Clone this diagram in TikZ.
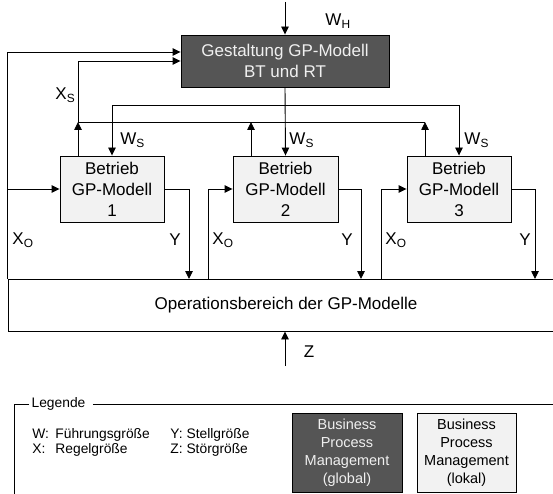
\documentclass[tikz,border=0pt]{standalone}
\usepackage{fontspec}
\setmainfont{Liberation Sans}
\usetikzlibrary{arrows.meta}
\definecolor{bpmdark}{HTML}{555555}
\definecolor{bpmlight}{HTML}{F2F2F2}
\tikzset{
	arr/.style={-{Triangle[length=8pt,width=7.5pt]}},
	glob/.style={draw, fill=bpmdark, text=white!94!black, align=center, inner sep=0pt},
	lok/.style={draw, fill=bpmlight, align=center, inner sep=0pt},
	lbl/.style={inner sep=0pt},
}
\begin{document}
\begin{tikzpicture}[x=1pt, y=-1pt, line width=0.9pt, font=\fontsize{17}{21}\selectfont]
			%%%%% START %%%%%
			\useasboundingbox (0,0) rectangle (553,494);
			
			\node[glob, minimum width=208pt, minimum height=52pt] (gest) at (285,61) {Gestaltung GP-Modell\\BT und RT};
			
			\node[lok, minimum width=104pt, minimum height=66pt] (b1) at (112,189) {Betrieb\\GP-Modell\\1};
			\node[lok, minimum width=105pt, minimum height=66pt] (b2) at (285.5,189) {Betrieb\\GP-Modell\\2};
			\node[lok, minimum width=104pt, minimum height=66pt] (b3) at (459,189) {Betrieb\\GP-Modell\\3};
			
			\node[draw, minimum width=556pt, minimum height=52pt, inner sep=0pt] (ops) at (286,305) {Operationsbereich der GP-Modelle};
			
			% Fuehrungsgroesse von oben
			\coordinate (wh) at (285,2);
			\draw[arr] (wh) -- (gest.north);
			\node[lbl, anchor=west] (lwh) at (325,21) {W\textsubscript{H}};
			
			% Rueckfuehrung links
			\draw[arr] (ops.north west) |- ([yshift=9pt]gest.west);
			\draw[arr] (ops.north west |- b1.west) -- (b1.west);
			
			% Regelgroessen X_S
			\coordinate (xs1) at (78,122);
			\coordinate (xs2) at (251,122);
			\coordinate (xs3) at (425,122);
			\draw[arr] (b1.north -| xs1) -- (xs1);
			\draw[arr] (b2.north -| xs2) -- (xs2);
			\draw[arr] (b3.north -| xs3) -- (xs3);
			\draw[arr] (xs3) -- (xs1) |- (gest.west);
			\node[lbl, anchor=west] (lxs) at (55,95) {X\textsubscript{S}};
			
			% Fuehrungsgroessen W_S
			\coordinate (ws) at (285,105);
			\draw[arr] (gest.south) -- (b2.north);
			\draw[arr] (ws) -| (b1.north);
			\draw[arr] (ws) -| (b3.north);
			\node[lbl, anchor=west] (lws1) at (120,140) {W\textsubscript{S}};
			\node[lbl, anchor=west] (lws2) at (289,140) {W\textsubscript{S}};
			\node[lbl, anchor=west] (lws3) at (464,140) {W\textsubscript{S}};
			
			% Stellgroessen Y und Regelgroessen X_O
			\coordinate (y1) at (189,279);
			\coordinate (x2) at (208,279);
			\coordinate (y2) at (361,279);
			\coordinate (x3) at (381,279);
			\coordinate (y3) at (535,279);
			\draw[arr] (b1.east) -| (y1);
			\draw[arr] (x2) |- (b2.west);
			\draw[arr] (b2.east) -| (y2);
			\draw[arr] (x3) |- (b3.west);
			\draw[arr] (b3.east) -| (y3);
			
			\node[lbl] (lxo1) at (23,240) {X\textsubscript{O}};
			\node[lbl] (ly1) at (175,240) {Y};
			\node[lbl] (lxo2) at (223,240) {X\textsubscript{O}};
			\node[lbl] (ly2) at (347,240) {Y};
			\node[lbl] (lxo3) at (396,240) {X\textsubscript{O}};
			\node[lbl] (ly3) at (525,240) {Y};
			
			% Stoergroesse
			\coordinate (z) at (285,366);
			\draw[arr] (z) -- (z |- ops.south);
			\node[lbl] (lz) at (309,352) {Z};
			
			% Legende
			\begin{scope}[font=\fontsize{13.8}{18}\selectfont]
				\node[inner xsep=2pt, inner ysep=0pt] (leg) at (58.5,404) {Legende};
				\draw (leg.west) -- (14,404) -- (14,500);
				\draw ([xshift=5pt]leg.east) -- (560,404);
				
				\node[lbl, anchor=base west] (lw) at (32,438) {\makebox[23pt][l]{W:}Führungsgröße};
				\node[lbl, anchor=base west] (lx) at (32,453) {\makebox[23pt][l]{X:}Regelgröße};
				\node[lbl, anchor=base west] (ly) at (170,438) {Y: Stellgröße};
				\node[lbl, anchor=base west] (lzz) at (170,453) {Z: Störgröße};
			\end{scope}
			\begin{scope}[font=\fontsize{14.5}{18}\selectfont]
				\node[glob, minimum width=110pt, minimum height=79pt] (lglob) at (347,452.5) {Business\\Process\\Management\\(global)};
				\node[lok, minimum width=99pt, minimum height=79pt] (llok) at (466.5,452.5) {Business\\Process\\Management\\(lokal)};
			\end{scope}
			
			%%%%% END %%%%%
\end{tikzpicture}
\end{document}
